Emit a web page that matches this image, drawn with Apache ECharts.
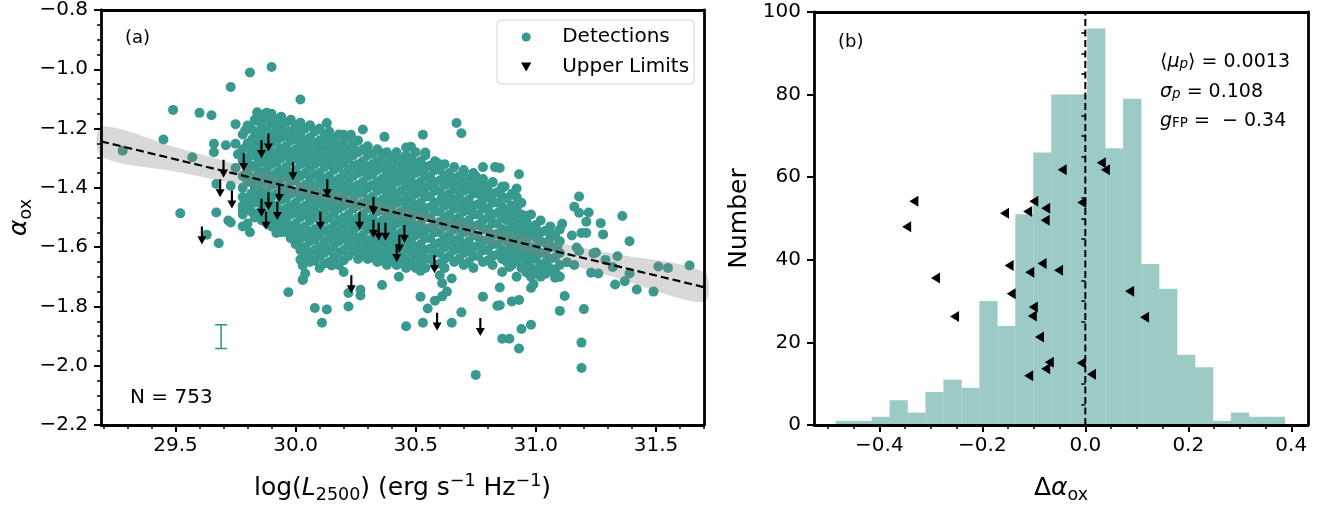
<!DOCTYPE html>
<html><head><meta charset="utf-8">
<script src="https://cdn.jsdelivr.net/npm/echarts@6/dist/echarts.min.js"></script>
<style>html,body{margin:0;padding:0;background:#fff}#c{width:1332px;height:509px}</style>
</head><body><div id="c"></div>
<script>
// ---------- tick labels ----------
const xTicksA = [29.5, 30.0, 30.5, 31.0, 31.5];
const yTicksA = [-2.2, -2.0, -1.8, -1.6, -1.4, -1.2, -1.0, -0.8];
const xTicksB = [-0.4, -0.2, 0.0, 0.2, 0.4];
const yTicksB = [0, 20, 40, 60, 80, 100];

// ---------- panel (a): detections (outer, individually visible points) ----------
const detOuter = [
[29.81,-1.011],[29.90,-0.992],[29.73,-1.060],[30.02,-1.102],[29.49,-1.137],[29.60,-1.147],[29.65,-1.155],[29.84,-1.145],[29.88,-1.147],[29.87,-1.152],
[29.75,-1.185],[29.79,-1.207],[29.94,-1.188],[29.97,-1.212],[30.01,-1.203],[29.45,-1.237],[29.28,-1.275],[29.57,-1.297],[29.66,-1.251],[29.71,-1.256],
[29.75,-1.251],[29.82,-1.236],[29.86,-1.242],[29.92,-1.217],[29.66,-1.280],[29.76,-1.287],[29.82,-1.269],[29.85,-1.295],[29.89,-1.278],[29.92,-1.288],
[29.97,-1.278],[30.02,-1.261],[29.75,-1.333],[29.84,-1.335],[29.67,-1.387],[29.73,-1.393],[29.78,-1.431],[29.83,-1.398],[29.88,-1.321],[29.95,-1.343],
[30.00,-1.366],[30.03,-1.409],[29.85,-1.431],[29.89,-1.453],[29.97,-1.420],[29.78,-1.475],[29.52,-1.486],[29.67,-1.483],[29.72,-1.510],[30.01,-1.486],
[29.96,-1.497],[29.92,-1.464],
[30.13,-1.181],[30.06,-1.190],[30.02,-1.212],[30.28,-1.203],[30.20,-1.221],[30.23,-1.221],[30.37,-1.228],[30.53,-1.221],[30.67,-1.181],[30.69,-1.216],
[30.14,-1.239],[30.12,-1.256],[30.18,-1.261],[30.24,-1.267],[30.16,-1.283],[30.46,-1.264],[30.48,-1.261],[30.37,-1.283],[30.54,-1.281],[30.59,-1.316],
[30.49,-1.311],[30.53,-1.325],[30.78,-1.330],[30.83,-1.330],[30.70,-1.344],[30.65,-1.371],[30.75,-1.361],[30.82,-1.382],[30.86,-1.396],[30.66,-1.404],
[30.71,-1.393],[30.74,-1.407],[30.79,-1.415],[30.05,-1.288],[30.09,-1.300],[30.13,-1.302],[30.20,-1.311],[30.28,-1.327],[30.33,-1.338],[30.38,-1.327],
[30.43,-1.316],[30.45,-1.354],[30.56,-1.371],[30.52,-1.382],[30.61,-1.431],
[30.93,-1.354],[30.87,-1.395],[30.92,-1.402],[30.85,-1.333],[30.92,-1.431],[30.93,-1.453],[30.90,-1.462],[30.86,-1.464],[30.96,-1.494],[30.92,-1.497],
[30.88,-1.497],[31.18,-1.429],[31.16,-1.464],[31.18,-1.484],[31.22,-1.483],[31.36,-1.495],[31.11,-1.521],[31.21,-1.514],[31.27,-1.519],
[29.63,-1.558],[29.68,-1.587],[29.73,-1.517],[29.78,-1.530],[29.81,-1.550],[29.92,-1.552],[29.96,-1.541],[30.00,-1.574],[30.02,-1.642],[30.03,-1.662],
[30.03,-1.709],[29.97,-1.752],[30.01,-1.591],[29.91,-1.530],
[30.15,-1.662],[30.20,-1.684],[30.04,-1.689],[30.03,-1.711],[30.22,-1.755],[30.27,-1.744],[30.27,-1.763],[30.36,-1.728],[30.43,-1.700],[30.52,-1.680],
[30.60,-1.695],[30.61,-1.722],[30.65,-1.706],[30.63,-1.750],[30.61,-1.766],[30.58,-1.781],[30.52,-1.767],[30.55,-1.807],[30.69,-1.820],[30.65,-1.855],
[30.53,-1.855],[30.46,-1.867],[30.78,-1.767],[30.84,-1.798],[30.85,-1.736],[30.08,-1.805],[30.13,-1.810],[30.22,-1.800],[30.11,-1.855],[30.75,-2.031],
[30.86,-1.909],
[31.28,-1.557],[31.06,-1.549],[31.15,-1.561],[31.19,-1.552],[31.21,-1.552],[31.39,-1.580],[30.95,-1.528],[30.99,-1.541],[30.88,-1.552],[30.92,-1.558],
[31.00,-1.568],[31.09,-1.596],[31.05,-1.594],[31.17,-1.601],[31.18,-1.613],[31.24,-1.621],[31.25,-1.618],[31.34,-1.631],[31.29,-1.643],[31.13,-1.651],
[31.16,-1.660],[31.32,-1.667],[31.04,-1.651],[31.04,-1.673],[31.06,-1.673],[30.97,-1.651],[31.51,-1.665],[31.55,-1.670],[31.64,-1.662],[31.23,-1.686],
[31.26,-1.689],[31.39,-1.689],[31.37,-1.715],[31.33,-1.726],[31.42,-1.743],[31.49,-1.750],[31.08,-1.703],[31.09,-1.695],[31.01,-1.684],[30.97,-1.689],
[30.92,-1.700],[30.89,-1.667],[30.86,-1.684],[30.99,-1.725],[30.98,-1.738],[31.12,-1.765],[31.10,-1.815],[31.20,-1.809],[30.90,-1.783],[30.93,-1.778],
[30.85,-1.796],[30.98,-1.862],[30.94,-1.876],[30.89,-1.909],[30.93,-1.942],[31.19,-1.922],[31.19,-2.008],[30.86,-1.613],[30.90,-1.618],[30.93,-1.613],
[30.98,-1.618],[30.89,-1.640]
];

// ---------- panel (a): detections in the crowded core, read column by column ----------
const coreX = [29.78,29.80,29.83,29.86,29.90,29.94,29.98,30.02,30.06,30.10,30.14,30.18,30.22,30.26,30.30,30.34,30.38,30.42,
               30.46,30.50,30.54,30.58,30.62,30.66,30.70,30.74,30.78,30.82,30.86,30.90,30.94,30.98,31.02,31.06,31.10];
const coreY = [
[-1.22,-1.27,-1.31,-1.36,-1.40,-1.46,-1.49],
[-1.19,-1.25,-1.30,-1.34,-1.38,-1.44,-1.47,-1.52],
[-1.17,-1.21,-1.26,-1.29,-1.33,-1.37,-1.41,-1.45,-1.50],
[-1.16,-1.19,-1.23,-1.27,-1.31,-1.35,-1.38,-1.42,-1.46,-1.51],
[-1.15,-1.18,-1.22,-1.25,-1.29,-1.32,-1.36,-1.39,-1.43,-1.47,-1.50,-1.53],
[-1.16,-1.20,-1.23,-1.27,-1.30,-1.34,-1.37,-1.41,-1.44,-1.48,-1.52,-1.55],
[-1.17,-1.21,-1.24,-1.28,-1.31,-1.35,-1.38,-1.42,-1.46,-1.49,-1.53,-1.57],
[-1.18,-1.22,-1.25,-1.29,-1.32,-1.36,-1.40,-1.43,-1.47,-1.50,-1.54,-1.57,-1.61],
[-1.19,-1.23,-1.26,-1.30,-1.33,-1.37,-1.41,-1.44,-1.48,-1.51,-1.55,-1.58,-1.62,-1.65],
[-1.20,-1.24,-1.27,-1.31,-1.35,-1.38,-1.42,-1.45,-1.49,-1.53,-1.56,-1.60,-1.63,-1.67],
[-1.21,-1.25,-1.28,-1.32,-1.36,-1.39,-1.43,-1.46,-1.50,-1.54,-1.57,-1.61,-1.65],
[-1.22,-1.26,-1.29,-1.33,-1.37,-1.40,-1.44,-1.47,-1.51,-1.55,-1.58,-1.62,-1.66],
[-1.23,-1.27,-1.30,-1.34,-1.38,-1.41,-1.45,-1.49,-1.52,-1.56,-1.59,-1.63],
[-1.24,-1.28,-1.32,-1.35,-1.39,-1.42,-1.46,-1.50,-1.53,-1.57,-1.60,-1.64],
[-1.26,-1.29,-1.33,-1.36,-1.40,-1.44,-1.47,-1.51,-1.54,-1.58,-1.61,-1.64],
[-1.27,-1.31,-1.34,-1.38,-1.41,-1.45,-1.48,-1.52,-1.55,-1.59,-1.62,-1.65],
[-1.28,-1.32,-1.35,-1.39,-1.42,-1.46,-1.49,-1.53,-1.56,-1.60,-1.63,-1.66],
[-1.28,-1.31,-1.35,-1.38,-1.42,-1.45,-1.49,-1.52,-1.56,-1.59,-1.63,-1.66],
[-1.29,-1.32,-1.36,-1.39,-1.43,-1.46,-1.50,-1.53,-1.57,-1.60,-1.64,-1.67],
[-1.28,-1.32,-1.35,-1.39,-1.42,-1.46,-1.49,-1.53,-1.56,-1.60,-1.63,-1.67],
[-1.29,-1.33,-1.36,-1.40,-1.43,-1.47,-1.50,-1.54,-1.57,-1.61,-1.64,-1.67],
[-1.31,-1.34,-1.38,-1.41,-1.45,-1.48,-1.52,-1.55,-1.59,-1.62,-1.66],
[-1.32,-1.36,-1.39,-1.43,-1.46,-1.50,-1.53,-1.57,-1.60,-1.64,-1.67],
[-1.33,-1.37,-1.40,-1.44,-1.47,-1.51,-1.54,-1.58,-1.61,-1.65],
[-1.34,-1.38,-1.41,-1.45,-1.48,-1.52,-1.55,-1.59,-1.62,-1.66],
[-1.35,-1.39,-1.42,-1.46,-1.49,-1.53,-1.56,-1.60,-1.63,-1.67],
[-1.37,-1.40,-1.44,-1.47,-1.51,-1.54,-1.58,-1.61,-1.65],
[-1.38,-1.42,-1.45,-1.49,-1.52,-1.56,-1.59,-1.63,-1.66],
[-1.40,-1.43,-1.47,-1.50,-1.54,-1.57,-1.61,-1.64],
[-1.42,-1.46,-1.49,-1.53,-1.56,-1.60,-1.63,-1.66],
[-1.45,-1.49,-1.52,-1.56,-1.59,-1.63,-1.67],
[-1.49,-1.53,-1.56,-1.60,-1.63,-1.67,-1.70],
[-1.51,-1.55,-1.58,-1.62,-1.66,-1.70],
[-1.53,-1.57,-1.60,-1.64,-1.68],
[-1.54,-1.58,-1.62,-1.66,-1.70]
];
// second, staggered set of core columns (fills the gaps seen between the first set)
const coreX2 = [29.815,29.845,29.88,29.92,29.96,30.00,30.04,30.08,30.12,30.16,30.20,30.24,30.28,30.32,30.36,30.40,30.44,
                30.48,30.52,30.56,30.60,30.64,30.68,30.72,30.76,30.80,30.84,30.88,30.92,30.96,31.00,31.04,31.08];
const coreY2 = [
[-1.20,-1.245,-1.285,-1.325,-1.365,-1.42,-1.48],
[-1.175,-1.215,-1.25,-1.31,-1.35,-1.395,-1.44,-1.485],
[-1.165,-1.205,-1.24,-1.275,-1.305,-1.34,-1.375,-1.41,-1.445,-1.49,-1.52],
[-1.17,-1.20,-1.245,-1.28,-1.315,-1.35,-1.385,-1.42,-1.46,-1.50,-1.535],
[-1.18,-1.225,-1.26,-1.29,-1.33,-1.36,-1.40,-1.435,-1.47,-1.51,-1.55],
[-1.19,-1.235,-1.27,-1.30,-1.34,-1.375,-1.415,-1.45,-1.485,-1.52,-1.555,-1.59],
[-1.20,-1.24,-1.275,-1.315,-1.35,-1.39,-1.42,-1.46,-1.49,-1.53,-1.565,-1.60,-1.63],
[-1.21,-1.25,-1.285,-1.32,-1.355,-1.395,-1.43,-1.465,-1.50,-1.54,-1.575,-1.61,-1.645],
[-1.22,-1.26,-1.295,-1.33,-1.37,-1.40,-1.44,-1.475,-1.51,-1.545,-1.585,-1.62,-1.655],
[-1.235,-1.27,-1.305,-1.34,-1.38,-1.415,-1.45,-1.485,-1.525,-1.56,-1.595,-1.635],
[-1.245,-1.28,-1.315,-1.355,-1.39,-1.425,-1.46,-1.50,-1.535,-1.57,-1.61,-1.645],
[-1.255,-1.29,-1.325,-1.36,-1.40,-1.435,-1.47,-1.51,-1.545,-1.58,-1.615],
[-1.27,-1.31,-1.345,-1.38,-1.415,-1.45,-1.49,-1.525,-1.56,-1.595,-1.625],
[-1.285,-1.32,-1.355,-1.39,-1.43,-1.465,-1.50,-1.535,-1.57,-1.605,-1.635],
[-1.295,-1.33,-1.37,-1.405,-1.44,-1.475,-1.51,-1.545,-1.58,-1.615,-1.645],
[-1.30,-1.335,-1.37,-1.405,-1.44,-1.475,-1.505,-1.54,-1.575,-1.61,-1.645],
[-1.305,-1.34,-1.375,-1.41,-1.445,-1.48,-1.515,-1.55,-1.585,-1.62,-1.655],
[-1.30,-1.34,-1.375,-1.405,-1.44,-1.475,-1.51,-1.545,-1.58,-1.615,-1.65],
[-1.31,-1.345,-1.38,-1.415,-1.45,-1.485,-1.52,-1.555,-1.59,-1.625,-1.655],
[-1.325,-1.36,-1.395,-1.43,-1.465,-1.50,-1.535,-1.57,-1.605,-1.64],
[-1.34,-1.375,-1.41,-1.445,-1.48,-1.515,-1.55,-1.585,-1.62,-1.655],
[-1.35,-1.385,-1.42,-1.455,-1.49,-1.525,-1.56,-1.595,-1.63],
[-1.36,-1.395,-1.43,-1.465,-1.50,-1.535,-1.57,-1.605,-1.64],
[-1.37,-1.405,-1.44,-1.475,-1.51,-1.545,-1.58,-1.615,-1.65],
[-1.385,-1.42,-1.455,-1.49,-1.525,-1.565,-1.595,-1.63],
[-1.395,-1.43,-1.47,-1.50,-1.54,-1.575,-1.61,-1.645],
[-1.415,-1.45,-1.485,-1.52,-1.555,-1.59,-1.625],
[-1.435,-1.475,-1.51,-1.545,-1.58,-1.615,-1.65],
[-1.47,-1.505,-1.54,-1.575,-1.61,-1.645],
[-1.51,-1.545,-1.58,-1.615,-1.65,-1.685],
[-1.525,-1.565,-1.60,-1.64,-1.675],
[-1.545,-1.585,-1.62,-1.655,-1.69],
[-1.56,-1.60,-1.635,-1.675]
];

// ---------- panel (a): upper limits (value at top of arrow) ----------
const upperLimits = [
[29.887,-1.217],[29.858,-1.239],[29.784,-1.283],[29.700,-1.305],[29.989,-1.314],[29.686,-1.371],[29.735,-1.409],
[29.932,-1.387],[29.887,-1.415],[29.858,-1.437],[29.924,-1.448],[29.877,-1.481],[29.610,-1.530],[30.132,-1.371],
[30.324,-1.431],[30.103,-1.481],[30.266,-1.481],[30.324,-1.508],[30.346,-1.518],[30.374,-1.518],[30.453,-1.525],
[30.432,-1.558],[30.421,-1.590],[30.578,-1.627],[30.232,-1.695],[30.589,-1.821],[30.769,-1.839]
];

// ---------- panel (a): best fit line and its confidence band ----------
const fitX = [29.19, 31.70];
const fitY = [-1.243, -1.735];
const bandX  = [29.19, 29.5, 29.8, 30.1, 30.4, 30.7, 31.0, 31.3, 31.7];
const bandHi = [-1.193,-1.263,-1.331,-1.396,-1.458,-1.515,-1.568,-1.619,-1.684];
const bandLo = [-1.293,-1.345,-1.395,-1.446,-1.502,-1.563,-1.628,-1.695,-1.786];

// typical error bar
const errBar = [[29.69, -1.942, -1.862]];

// ---------- panel (b): histogram of residuals ----------
const binStart = -0.485;
const binWidth = 0.0349;
const binCounts = [1,1,2,6,3,8,11,9,30,24,51,66,80,80,96,67,79,39,33,17,14,1,3,2,2];
// upper-limit residuals (left-pointing triangles)
const ulResX = [-0.333,-0.347,-0.291,-0.254,-0.157,-0.112,-0.100,-0.077,-0.078,-0.148,-0.108,-0.084,-0.052,-0.144,
                -0.101,-0.103,-0.089,-0.070,-0.077,-0.110,-0.045,-0.007,0.031,0.039,0.086,0.115,-0.008,0.012];
const ulResY = [54.2,48.0,35.6,26.3,51.3,51.7,54.2,52.5,49.6,38.6,37.0,39.1,37.5,31.8,
                28.6,26.4,21.3,15.2,13.6,11.9,61.8,53.9,63.5,61.8,32.4,26.1,15.0,12.3];
const refLineX = 0.0;

// ---------- styling ----------
const FF = 'DejaVu Sans';
const TEAL = '#389a8e';
const HIST = '#9ccbc6';
const minus = s => s.replace('-', '\u2212');
const fmt1 = v => minus((Math.abs(v) < 1e-9 ? 0 : v).toFixed(1));
const fmt0 = v => String(Math.round(v));
function minorVals(a, b, step, majors) {
  const out = [];
  const n = Math.round((b - a) / step);
  for (let i = 0; i <= n; i++) {
    const v = +(a + i * step).toFixed(4);
    if (!majors.some(m => Math.abs(m - v) < 1e-6)) out.push(v);
  }
  return out;
}
const xMinorA = minorVals(29.2, 31.7, 0.1, xTicksA);
const yMinorA = minorVals(-2.2, -0.8, 0.05, yTicksA);
const xMinorB = minorVals(-0.5, 0.4, 0.05, xTicksB);
const yMinorB = minorVals(0, 100, 5, yTicksB);

const detections = detOuter.slice();
coreX.forEach((x, i) => coreY[i].forEach(y => detections.push([x, y])));
coreX2.forEach((x, i) => coreY2[i].forEach(y => detections.push([x, y])));

const histData = binCounts.map((c, i) => [binStart + i * binWidth, binStart + (i + 1) * binWidth, c]);
const ulRes = ulResX.map((x, i) => [x, ulResY[i]]);

const frameLine = {show: true, onZero: false, lineStyle: {color: '#000', width: 2.8}};
const richName = {
  it: {fontStyle: 'italic', fontSize: 25, fontFamily: FF, color: '#000'},
  n: {fontSize: 25, fontFamily: FF, color: '#000'},
  sub: {fontSize: 17.5, fontFamily: FF, color: '#000', lineHeight: 17, verticalAlign: 'bottom'},
  sup: {fontSize: 17.5, fontFamily: FF, color: '#000', lineHeight: 17, verticalAlign: 'top'}
};
const nameStyle = {fontSize: 25, fontFamily: FF, color: '#000', lineHeight: 32, rich: richName};

function mainX(grid, min, max, ticks, fmt, name, gap) {
  return {type: 'value', gridIndex: grid, position: 'bottom', min, max, z: 10,
    axisLine: frameLine,
    axisTick: {show: true, customValues: ticks, length: 7, lineStyle: {color: '#000', width: 2}},
    axisLabel: {customValues: ticks, formatter: fmt, fontSize: 20, fontFamily: FF, color: '#000', margin: 11},
    splitLine: {show: false}, name, nameLocation: 'middle', nameGap: gap, nameTextStyle: nameStyle};
}
function minorX(grid, min, max, ticks) {
  return {type: 'value', gridIndex: grid, position: 'bottom', min, max, z: 10,
    axisLine: {show: false}, axisLabel: {show: false}, splitLine: {show: false},
    axisTick: {show: true, customValues: ticks, length: 4, lineStyle: {color: '#000', width: 1.5}}};
}
function topX(grid, min, max) {
  return {type: 'value', gridIndex: grid, position: 'top', min, max, z: 10,
    axisLine: frameLine, axisTick: {show: false}, axisLabel: {show: false}, splitLine: {show: false}};
}
function mainY(grid, min, max, ticks, fmt, name, gap) {
  return {type: 'value', gridIndex: grid, position: 'left', min, max, z: 10,
    axisLine: frameLine,
    axisTick: {show: true, customValues: ticks, length: 7, lineStyle: {color: '#000', width: 2}},
    axisLabel: {customValues: ticks, formatter: fmt, fontSize: 20, fontFamily: FF, color: '#000', margin: 13},
    splitLine: {show: false}, name, nameLocation: 'middle', nameGap: gap, nameRotate: 90, nameTextStyle: nameStyle};
}
function minorY(grid, min, max, ticks) {
  return {type: 'value', gridIndex: grid, position: 'left', min, max, z: 10,
    axisLine: {show: false}, axisLabel: {show: false}, splitLine: {show: false},
    axisTick: {show: true, customValues: ticks, length: 4, lineStyle: {color: '#000', width: 1.5}}};
}
function rightY(grid, min, max) {
  return {type: 'value', gridIndex: grid, position: 'right', min, max, z: 10,
    axisLine: frameLine, axisTick: {show: false}, axisLabel: {show: false}, splitLine: {show: false}};
}

const XA = [29.19, 31.70], YA = [-2.2, -0.8], XB = [-0.527, 0.4325], YB = [0, 100];

const option = {
  animation: false,
  backgroundColor: '#fff',
  grid: [
    {left: 101, right: 628, top: 10, bottom: 74},
    {left: 814, right: 24, top: 12, bottom: 74}
  ],
  xAxis: [
    mainX(0, XA[0], XA[1], xTicksA, fmt1, 'log({it|L}{sub|2500}) (erg s{sup|\u22121} Hz{sup|\u22121})', 47),
    minorX(0, XA[0], XA[1], xMinorA),
    topX(0, XA[0], XA[1]),
    mainX(1, XB[0], XB[1], xTicksB, fmt1, '\u0394{it|\u03b1}{sub|ox}', 47),
    minorX(1, XB[0], XB[1], xMinorB),
    topX(1, XB[0], XB[1])
  ],
  yAxis: [
    mainY(0, YA[0], YA[1], yTicksA, fmt1, '{it|\u03b1}{sub|ox}', 51),
    minorY(0, YA[0], YA[1], yMinorA),
    rightY(0, YA[0], YA[1]),
    mainY(1, YB[0], YB[1], yTicksB, fmt0, 'Number', 59),
    minorY(1, YB[0], YB[1], yMinorB),
    rightY(1, YB[0], YB[1])
  ],
  legend: {
    data: [{name: 'Detections', icon: 'circle'}, {name: 'Upper Limits', icon: 'path://M0,0L10,0L5,8.7Z'}],
    orient: 'vertical', left: 516, top: 22, itemWidth: 62, itemHeight: 9, itemGap: 10,
    selectedMode: false, z: 20,
    textStyle: {fontSize: 20, fontFamily: FF, color: '#000', lineHeight: 20}
  },
  graphic: [
    {type: 'rect', z: 15, shape: {x: 497, y: 20, width: 197, height: 64, r: 4},
     style: {fill: 'rgba(255,255,255,0.85)', stroke: '#d4d4d4', lineWidth: 1}},
    {type: 'text', z: 15, x: 125, y: 38, style: {text: '(a)', font: '18px "DejaVu Sans"', fill: '#000', verticalAlign: 'middle'}},
    {type: 'text', z: 15, x: 838, y: 42, style: {text: '(b)', font: '18px "DejaVu Sans"', fill: '#000', verticalAlign: 'middle'}},
    {type: 'text', z: 15, x: 130, y: 398, style: {text: 'N = 753', font: '20px "DejaVu Sans"', fill: '#000', verticalAlign: 'middle'}},
    {type: 'text', z: 15, x: 1160, y: 62, style: {
      text: '{n|\u27e8}{it|\u03bc}{sub|p}{n|\u27e9 = 0.0013}', verticalAlign: 'middle',
      rich: {n: {fontSize: 19, fontFamily: FF, fill: '#000'}, it: {fontSize: 19, fontFamily: FF, fontStyle: 'italic', fill: '#000'},
             sub: {fontSize: 13.5, fontFamily: FF, fontStyle: 'italic', fill: '#000', lineHeight: 13, verticalAlign: 'bottom'}}}},
    {type: 'text', z: 15, x: 1160, y: 92, style: {
      text: '{it|\u03c3}{sub|p}{n| = 0.108}', verticalAlign: 'middle',
      rich: {n: {fontSize: 19, fontFamily: FF, fill: '#000'}, it: {fontSize: 19, fontFamily: FF, fontStyle: 'italic', fill: '#000'},
             sub: {fontSize: 13.5, fontFamily: FF, fontStyle: 'italic', fill: '#000', lineHeight: 13, verticalAlign: 'bottom'}}}},
    {type: 'text', z: 15, x: 1160, y: 121, style: {
      text: '{it|g}{sub|FP}{n| =  \u2212 0.34}', verticalAlign: 'middle',
      rich: {n: {fontSize: 19, fontFamily: FF, fill: '#000'}, it: {fontSize: 19, fontFamily: FF, fontStyle: 'italic', fill: '#000'},
             sub: {fontSize: 13.5, fontFamily: FF, fill: '#000', lineHeight: 13, verticalAlign: 'bottom'}}}}
  ],
  series: [
    {name: 'Detections', type: 'scatter', xAxisIndex: 0, yAxisIndex: 0, data: detections, symbolSize: 10,
     itemStyle: {color: TEAL, opacity: 1}, z: 2, silent: true},
    {type: 'custom', xAxisIndex: 0, yAxisIndex: 0, z: 3, silent: true, data: [[bandX[0], bandHi[0]]],
     renderItem: (p, api) => {
       const pts = [];
       for (let i = 0; i < bandX.length; i++) pts.push(api.coord([bandX[i], bandHi[i]]));
       for (let i = bandX.length - 1; i >= 0; i--) pts.push(api.coord([bandX[i], bandLo[i]]));
       return {type: 'polygon', shape: {points: pts, smooth: 0.3}, style: {fill: 'rgba(128,128,128,0.3)'}};
     }},
    {type: 'line', xAxisIndex: 0, yAxisIndex: 0, z: 4, silent: true, symbol: 'none',
     data: fitX.map((x, i) => [x, fitY[i]]), lineStyle: {color: '#000', width: 2.2, type: [8, 4]}},
    {name: 'Upper Limits', type: 'scatter', xAxisIndex: 0, yAxisIndex: 0, z: 5, silent: true, data: upperLimits,
     symbol: 'path://M3.8,0L6.2,0L6.2,11L10,11L5,20L0,11L3.8,11Z', symbolSize: [9, 18], symbolOffset: [0, 9],
     symbolKeepAspect: false, itemStyle: {color: '#000', opacity: 1}},
    {type: 'custom', xAxisIndex: 0, yAxisIndex: 0, z: 5, silent: true, data: errBar, encode: {x: 0, y: [1, 2]},
     renderItem: (p, api) => {
       const lo = api.coord([api.value(0), api.value(1)]);
       const hi = api.coord([api.value(0), api.value(2)]);
       const st = {stroke: TEAL, lineWidth: 1.6};
       return {type: 'group', children: [
         {type: 'line', shape: {x1: lo[0], y1: lo[1], x2: hi[0], y2: hi[1]}, style: st},
         {type: 'line', shape: {x1: lo[0] - 6, y1: lo[1], x2: lo[0] + 6, y2: lo[1]}, style: st},
         {type: 'line', shape: {x1: hi[0] - 6, y1: hi[1], x2: hi[0] + 6, y2: hi[1]}, style: st}]};
     }},
    {type: 'custom', xAxisIndex: 3, yAxisIndex: 3, z: 1, silent: true, data: histData, encode: {x: [0, 1], y: 2},
     renderItem: (p, api) => {
       const a = api.coord([api.value(0), api.value(2)]);
       const b = api.coord([api.value(1), 0]);
       return {type: 'rect', shape: {x: a[0], y: a[1], width: b[0] - a[0] + 0.3, height: b[1] - a[1]}, style: {fill: HIST}};
     }},
    {type: 'line', xAxisIndex: 3, yAxisIndex: 3, z: 4, silent: true, symbol: 'none',
     data: [[refLineX, 0], [refLineX, 100]], lineStyle: {color: '#000', width: 2, type: [7, 3.5]}},
    {type: 'scatter', xAxisIndex: 3, yAxisIndex: 3, z: 5, silent: true, data: ulRes,
     symbol: 'path://M10,0L10,11L0,5.5Z', symbolSize: [9, 11], symbolKeepAspect: false, itemStyle: {color: '#000', opacity: 1}}
  ]
};
const chart = echarts.init(document.getElementById('c'), null, {renderer: 'canvas'});
chart.setOption(option);
</script></body></html>
